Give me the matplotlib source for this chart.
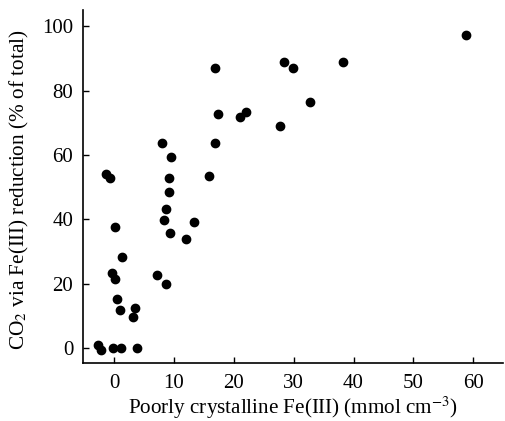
import matplotlib
matplotlib.use('Agg')
from matplotlib import pyplot as plt

# poorly crystalline Fe(III), mmol cm-3
fe_iii = [-2.6, -2.1, -0.2, 1.1, 3.8, 3.1, 3.5, 1.0, 0.5, -0.4,
          0.2, 1.3, 0.2, -1.4, -0.7, 7.1, 8.6, 8.0, 9.5, 9.1,
          9.1, 8.6, 8.3, 9.4, 12.0, 13.3, 15.8, 16.9, 16.9, 17.3,
          21.1, 22.0, 27.8, 28.4, 29.9, 32.7, 38.2, 58.8]
# CO2 via Fe(III) reduction, % of total
co2_pct = [0.9, -0.6, 0.0, 0.0, 0.0, 9.7, 12.5, 11.8, 15.1, 23.4,
           21.3, 28.2, 37.6, 54.1, 52.7, 22.7, 20.0, 63.6, 59.5, 52.7,
           48.5, 43.3, 39.8, 35.8, 33.8, 39.2, 53.4, 63.6, 86.9, 72.6,
           71.8, 73.2, 69.0, 89.0, 86.9, 76.6, 89.0, 97.3]

xticks = [0, 10, 20, 30, 40, 50, 60]
yticks = [0, 20, 40, 60, 80, 100]

plt.rcParams['font.family'] = ['Liberation Serif', 'DejaVu Serif']
plt.rcParams['mathtext.fontset'] = 'stix'

fig = plt.figure(figsize=(5.05, 4.21), dpi=100)
ax = fig.add_axes([0.1644, 0.1378, 0.832, 0.838])

ax.plot(fe_iii, co2_pct, 'o', color='black', ms=6, mec='black')

ax.set_xlim(-5.18, 65.0)
ax.set_ylim(-4.66, 105)
ax.set_xticks(xticks)
ax.set_yticks(yticks)
ax.tick_params(direction='in', length=4, width=1, labelsize=15)
ax.tick_params(axis='y', pad=7)
ax.tick_params(axis='x', pad=8)

for side in ['top', 'right']:
    ax.spines[side].set_visible(False)
for side in ['left', 'bottom']:
    ax.spines[side].set_linewidth(1.2)

ax.set_xlabel('Poorly crystalline Fe(III) (mmol cm$^{-3}$)', fontsize=15.2, labelpad=1)
ax.set_ylabel('CO$_2$ via Fe(III) reduction (% of total)', fontsize=15.3)
ax.yaxis.set_label_coords(-0.124, 0.49)

fig.savefig('out.png', dpi=100)
